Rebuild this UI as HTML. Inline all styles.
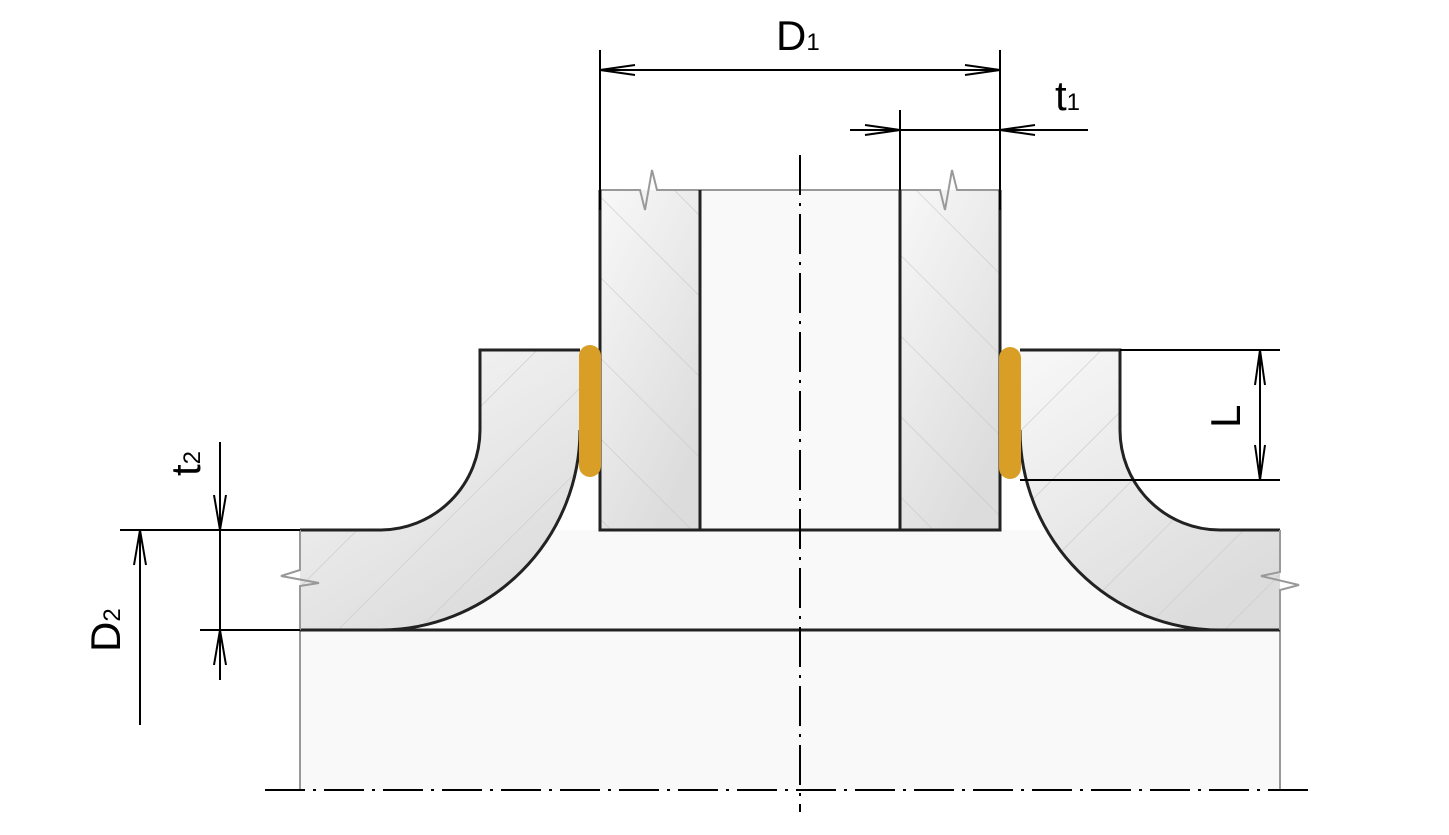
<!DOCTYPE html>
<html><head><style>html,body{margin:0;padding:0;background:#fff}svg{display:block}</style></head><body>
<svg width="1449" height="835" viewBox="0 0 1449 835" xmlns="http://www.w3.org/2000/svg" font-family="Liberation Sans, sans-serif">
<defs>
<linearGradient id="g" x1="0" y1="0" x2="0.6" y2="1"><stop offset="0" stop-color="#f8f8f8"/><stop offset="1" stop-color="#dcdcdc"/></linearGradient>
<pattern id="hb" patternUnits="userSpaceOnUse" width="57" height="57" patternTransform="rotate(-45)"><line x1="0" y1="0" x2="0" y2="57" stroke="#c8c8c8" stroke-width="1.2"/></pattern>
<pattern id="hf" patternUnits="userSpaceOnUse" width="57" height="57" patternTransform="rotate(45)"><line x1="0" y1="0" x2="0" y2="57" stroke="#c8c8c8" stroke-width="1.2"/></pattern>
</defs>
<rect x="300" y="530" width="980" height="260" fill="#f9f9f9"/>
<line x1="300" y1="630" x2="300" y2="790" stroke="#999" stroke-width="2"/>
<line x1="1280" y1="630" x2="1280" y2="790" stroke="#999" stroke-width="2"/>
<path d="M300 530 L380 530 A100 100 0 0 0 480 430 L480 350 L580 350 L580 430 A200 200 0 0 1 380 630 L300 630 Z" fill="url(#g)"/>
<path d="M300 530 L380 530 A100 100 0 0 0 480 430 L480 350 L580 350 L580 430 A200 200 0 0 1 380 630 L300 630 Z" fill="url(#hf)"/>
<path d="M1280 530 L1220 530 A100 100 0 0 1 1120 430 L1120 350 L1020 350 L1020 430 A200 200 0 0 0 1220 630 L1280 630 Z" fill="url(#g)"/>
<path d="M1280 530 L1220 530 A100 100 0 0 1 1120 430 L1120 350 L1020 350 L1020 430 A200 200 0 0 0 1220 630 L1280 630 Z" fill="url(#hf)"/>
<path d="M300 530 L380 530 A100 100 0 0 0 480 430 L480 350 L580 350 M580 430 A200 200 0 0 1 380 630 L300 630" fill="none" stroke="#222" stroke-width="3"/>
<path d="M1280 530 L1220 530 A100 100 0 0 1 1120 430 L1120 350 L1020 350 M1020 430 A200 200 0 0 0 1220 630 L1280 630" fill="none" stroke="#222" stroke-width="3"/>
<line x1="380" y1="630" x2="1220" y2="630" stroke="#222" stroke-width="3"/>
<path d="M300 530 L300 570 L281 576 L319 583 L300 586 L300 630" fill="none" stroke="#999" stroke-width="2"/>
<path d="M1280 530 L1280 572 L1261 576 L1299 585 L1280 590 L1280 630" fill="none" stroke="#999" stroke-width="2"/>
<rect x="700" y="190" width="200" height="340" fill="#f9f9f9"/>
<rect x="600" y="190" width="100" height="340" fill="url(#g)"/>
<rect x="600" y="190" width="100" height="340" fill="url(#hb)"/>
<rect x="900" y="190" width="100" height="340" fill="url(#g)"/>
<rect x="900" y="190" width="100" height="340" fill="url(#hb)"/>
<path d="M600 190 L640 190 L645 210 L652 170 L657 190 L900 190 L940 190 L945 210 L952 170 L957 190 L1000 190" fill="none" stroke="#999" stroke-width="2"/>
<path d="M600 190 L600 530 L1000 530 L1000 190 M700 190 L700 530 M900 190 L900 530" fill="none" stroke="#222" stroke-width="3"/>
<rect x="579" y="345" width="22" height="132" rx="11" fill="#d99e26"/>
<rect x="999" y="347" width="22" height="132" rx="11" fill="#d99e26"/>
<line x1="800" y1="155" x2="800" y2="812" stroke="#000" stroke-width="2" stroke-dasharray="40 8 3 8"/>
<line x1="265" y1="790" x2="1315" y2="790" stroke="#000" stroke-width="2" stroke-dasharray="40 8 3 8"/>
<g stroke="#000" stroke-width="2" fill="none">
<line x1="600" y1="50" x2="600" y2="210"/><line x1="1000" y1="50" x2="1000" y2="210"/>
<line x1="600" y1="70" x2="1000" y2="70"/>
<path d="M635 65 L600 70 L635 75 M965 65 L1000 70 L965 75"/>
<line x1="900" y1="110" x2="900" y2="190"/>
<line x1="850" y1="130" x2="1088" y2="130"/>
<path d="M865 125 L900 130 L865 135 M1035 125 L1000 130 L1035 135"/>
<line x1="1120" y1="350" x2="1280" y2="350"/><line x1="1020" y1="480" x2="1280" y2="480"/>
<line x1="1260" y1="350" x2="1260" y2="480"/>
<path d="M1255 385 L1260 350 L1265 385 M1255 445 L1260 480 L1265 445"/>
<line x1="120" y1="530" x2="300" y2="530"/><line x1="200" y1="630" x2="300" y2="630"/>
<line x1="220" y1="442" x2="220" y2="680"/>
<path d="M214 495 L220 530 L226 495 M214 665 L220 630 L226 665"/>
<line x1="140" y1="530" x2="140" y2="725"/>
<path d="M134 565 L140 530 L146 565"/>
</g>
<g font-size="42" fill="#000">
<text x="776" y="50">D<tspan font-size="24">1</tspan></text>
<text x="1055" y="110">t<tspan font-size="24">1</tspan></text>
<text transform="translate(1240,428) rotate(-90)">L</text>
<text transform="translate(200,476) rotate(-90)">t<tspan font-size="24">2</tspan></text>
<text transform="translate(120,652) rotate(-90)">D<tspan font-size="24">2</tspan></text>
</g>
</svg>
</body></html>
